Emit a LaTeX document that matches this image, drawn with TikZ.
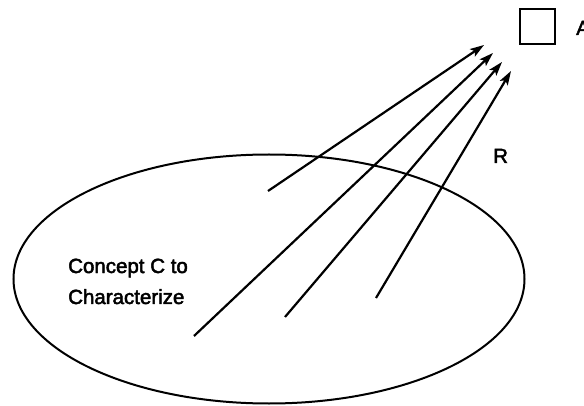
\documentclass[tikz,border=0pt]{standalone}
\usepackage{fontspec}
\setmainfont{Liberation Sans}[BoldFont=Liberation Sans,BoldFeatures={FakeBold=2.4}]
\usetikzlibrary{arrows.meta,shapes.geometric}
\begin{document}
\begin{tikzpicture}[x=1pt,y=-1pt,
  lbl/.style={font=\fontsize{20.5}{25}\selectfont\bfseries, inner sep=0pt, anchor=base west},
  ray/.style={-{Stealth[length=14pt,width=9pt,inset=3pt]}, line width=2.2pt},
  concept/.style={draw, ellipse, line width=2pt, minimum width=511pt, minimum height=249pt, inner sep=0pt},
  attr/.style={draw, line width=2.2pt, minimum size=35pt, inner sep=0pt}]
\useasboundingbox (0,0) rectangle (584,406);
\node[concept] (C) at (269,279) {};
\node[attr] (sq) at (537.5,26.5) {};
\node[lbl] (A) at (576,35) {A};
\node[lbl] (R) at (493,163) {R};
\node[lbl] (t1) at (68,273) {Concept C to};
\node[lbl] (t2) at (68,304) {Characterize};
\coordinate (s1) at (268,191); \coordinate (e1) at (484,45);
\coordinate (s2) at (194,336); \coordinate (e2) at (493,53);
\coordinate (s3) at (285,317); \coordinate (e3) at (502,62);
\coordinate (s4) at (376,298); \coordinate (e4) at (511,71);
\draw[ray] (s1) -- (e1);
\draw[ray] (s2) -- (e2);
\draw[ray] (s3) -- (e3);
\draw[ray] (s4) -- (e4);
\end{tikzpicture}
\end{document}
